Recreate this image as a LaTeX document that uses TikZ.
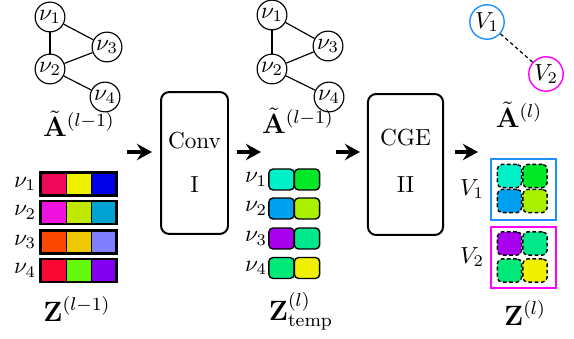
\documentclass[tikz,border=0pt]{standalone}
\usetikzlibrary{arrows.meta}
% feature colours
\definecolor{fa1}{RGB}{240,8,88}
\definecolor{fa2}{RGB}{238,240,0}
\definecolor{fa3}{RGB}{0,0,232}
\definecolor{fb1}{RGB}{238,18,222}
\definecolor{fb2}{RGB}{192,232,0}
\definecolor{fb3}{RGB}{0,162,210}
\definecolor{fc1}{RGB}{250,72,0}
\definecolor{fc2}{RGB}{238,200,0}
\definecolor{fc3}{RGB}{128,128,255}
\definecolor{fd1}{RGB}{250,8,50}
\definecolor{fd2}{RGB}{100,248,10}
\definecolor{fd3}{RGB}{132,0,240}
\definecolor{ta1}{RGB}{0,240,200}
\definecolor{ta2}{RGB}{0,232,40}
\definecolor{tb1}{RGB}{0,160,240}
\definecolor{tb2}{RGB}{168,240,0}
\definecolor{tc1}{RGB}{170,0,240}
\definecolor{tc2}{RGB}{0,232,140}
\definecolor{td1}{RGB}{0,232,120}
\definecolor{td2}{RGB}{240,240,0}
\definecolor{grpone}{RGB}{30,144,255}
\definecolor{grptwo}{RGB}{255,0,255}
\begin{document}
\begin{tikzpicture}[x=0.43pt,y=-0.43pt,
  vert/.style={circle,draw,line width=0.5pt,minimum size=12.8pt,inner sep=0pt},
  bigvert/.style={circle,draw,line width=0.6pt,minimum size=14.8pt,inner sep=0pt},
  edge/.style={line width=0.5pt},
  lbl/.style={font=\large,inner sep=0pt},
  rowlbl/.style={inner sep=0pt},
  blk/.style={draw,line width=0.85pt,rounded corners=3.5pt,inner sep=0pt},
  flow/.style={line width=2pt,-{Stealth[length=6.5pt,width=7pt,inset=2.2pt]}},
  cell/.style={draw,line width=0.4pt,minimum width=10.75pt,minimum height=9.5pt,inner sep=0pt},
  tcell/.style={draw,line width=0.6pt,rounded corners=1.8pt,minimum width=10.9pt,minimum height=9pt,inner sep=0pt},
  dcell/.style={draw,line width=0.6pt,dash pattern=on 1.6pt off 1.1pt,rounded corners=2pt,minimum width=10.4pt,minimum height=10pt,inner sep=0pt},
  grp/.style={draw,line width=0.65pt,minimum width=28pt,minimum height=26.2pt,inner sep=0pt},
]
\useasboundingbox (0,0) rectangle (574,339);

% ---- input graph
\node[vert] (a1) at (50,17) {$\nu_1$};
\node[vert] (a3) at (107,47) {$\nu_3$};
\node[vert] (a2) at (50,69) {$\nu_2$};
\node[vert] (a4) at (105,97) {$\nu_4$};
\draw[edge] (a1) -- (a2);
\draw[edge] (a1) -- (a3);
\draw[edge] (a2) -- (a3);
\draw[edge] (a2) -- (a4);
\node[lbl] (adjin) at (79,124) {$\tilde{\mathbf{A}}^{(l-1)}$};

% ---- input features Z^(l-1)
\foreach \r/\yy/\ca/\cb/\cc in {1/184/fa1/fa2/fa3, 2/212.5/fb1/fb2/fb3, 3/242/fc1/fc2/fc3, 4/270.5/fd1/fd2/fd3}{
  \node[cell,fill=\ca] (z\r a) at (53.5,\yy) {};
  \node[cell,fill=\cb] (z\r b) at (78.5,\yy) {};
  \node[cell,fill=\cc] (z\r c) at (103.5,\yy) {};
  \draw[line width=0.9pt] (z\r a.north west) rectangle (z\r c.south east);
  \node[rowlbl] (zl\r) at (25,\yy) {$\nu_{\r}$};
}
\node[lbl] (zin) at (77,309) {$\mathbf{Z}^{(l-1)}$};

% ---- convolution block
\node[blk,minimum width=28.8pt,minimum height=61pt] (conv) at (194.5,163) {};
\node (convt) at (194.5,141) {Conv};
\node (convn) at (194.5,185) {I};

% ---- graph after convolution
\node[vert] (b1) at (272,15) {$\nu_1$};
\node[vert] (b3) at (328,46) {$\nu_3$};
\node[vert] (b2) at (272,69) {$\nu_2$};
\node[vert] (b4) at (329,97) {$\nu_4$};
\draw[edge] (b1) -- (b2);
\draw[edge] (b1) -- (b3);
\draw[edge] (b2) -- (b3);
\draw[edge] (b2) -- (b4);
\node[lbl] (adjmid) at (298,121) {$\tilde{\mathbf{A}}^{(l-1)}$};

% ---- temporary features
\foreach \r/\yy/\ca/\cb in {1/179.5/ta1/ta2, 2/208.5/tb1/tb2, 3/238.5/tc1/tc2, 4/268/td1/td2}{
  \node[tcell,fill=\ca] (t\r a) at (281.5,\yy) {};
  \node[tcell,fill=\cb] (t\r b) at (307,\yy) {};
  \node[rowlbl] (tl\r) at (256,\yy) {$\nu_{\r}$};
}
\node[lbl] (ztmp) at (301,311) {$\mathbf{Z}^{(l)}_{\mathrm{temp}}$};

% ---- CGE block
\node[blk,minimum width=32.3pt,minimum height=60.6pt] (cge) at (405.5,164.5) {};
\node (cget) at (405.5,138) {CGE};
\node (cgen) at (405.5,185) {II};

% ---- coarsened graph
\node[bigvert,draw=grpone] (v1) at (487,22) {$V_1$};
\node[bigvert,draw=grptwo] (v2) at (546,74) {$V_2$};
\draw[edge,dash pattern=on 1.6pt off 1.2pt] (v1) -- (v2);
\node[lbl] (adjout) at (519,115) {$\tilde{\mathbf{A}}^{(l)}$};

% ---- grouped features Z^(l)
\node[grp,draw=grpone] (g1) at (523.5,189.5) {};
\node[grp,draw=grptwo] (g2) at (523.5,257.5) {};
\node[dcell,fill=ta1] (u1a) at (509.5,176) {};
\node[dcell,fill=ta2] (u1b) at (535,176) {};
\node[dcell,fill=tb1] (u2a) at (509.5,201) {};
\node[dcell,fill=tb2] (u2b) at (535,201) {};
\node[dcell,fill=tc1] (u3a) at (509.5,243.5) {};
\node[dcell,fill=tc2] (u3b) at (535,243.5) {};
\node[dcell,fill=td1] (u4a) at (509.5,270.5) {};
\node[dcell,fill=td2] (u4b) at (535,270.5) {};
\node[rowlbl] (gl1) at (472,189) {$V_1$};
\node[rowlbl] (gl2) at (472,257) {$V_2$};
\node[lbl] (zout) at (525,313) {$\mathbf{Z}^{(l)}$};

% ---- flow arrows
\coordinate (f1s) at (127,152); \coordinate (f1e) at (152,152);
\coordinate (f2s) at (237,152); \coordinate (f2e) at (261,152);
\coordinate (f3s) at (336,152); \coordinate (f3e) at (360,152);
\coordinate (f4s) at (455,152); \coordinate (f4e) at (478,152);
\draw[flow] (f1s) -- (f1e);
\draw[flow] (f2s) -- (f2e);
\draw[flow] (f3s) -- (f3e);
\draw[flow] (f4s) -- (f4e);
\end{tikzpicture}
\end{document}
